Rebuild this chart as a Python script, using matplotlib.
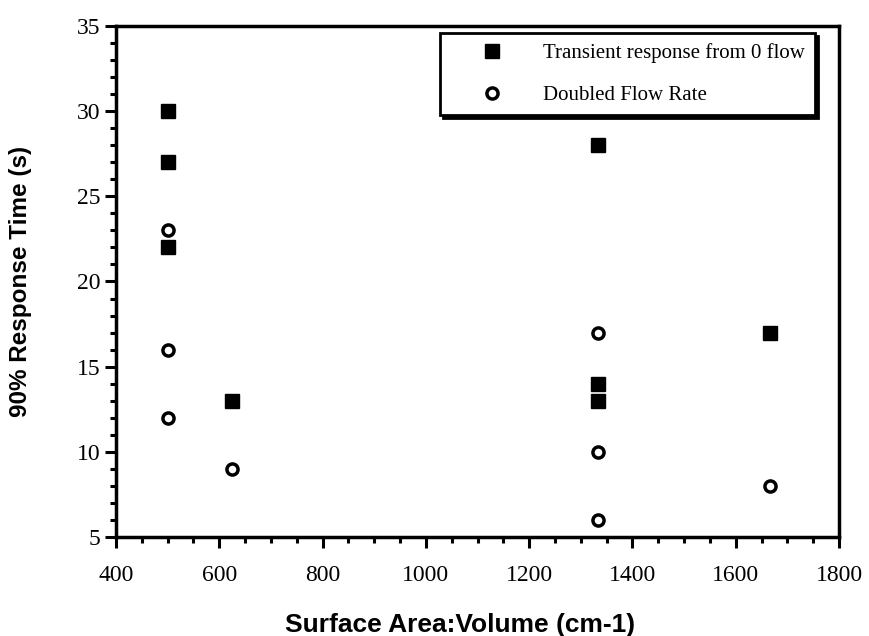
import matplotlib
matplotlib.use("Agg")
import matplotlib.pyplot as plt
from matplotlib.ticker import MultipleLocator

# surface area to volume ratio (cm-1)
sav_transient = [500, 500, 500, 625, 1333, 1333, 1333, 1667]
time_transient = [30, 27, 22, 13, 28, 14, 13, 17]

sav_doubled = [500, 500, 500, 625, 1333, 1333, 1333, 1667]
time_doubled = [23, 16, 12, 9, 17, 10, 6, 8]

fig = plt.figure(figsize=(8.69, 6.36), dpi=100)
ax = fig.add_axes([0.1335, 0.1557, 0.832, 0.8034])

ax.plot(sav_transient, time_transient, linestyle="none", marker="s",
        markersize=10, color="black", label="Transient response from 0 flow")
ax.plot(sav_doubled, time_doubled, linestyle="none", marker="o",
        markersize=8, markerfacecolor="white", markeredgecolor="black",
        markeredgewidth=2.5, label="Doubled Flow Rate")

ax.set_xlim(400, 1800)
ax.set_ylim(5, 35)
ax.xaxis.set_major_locator(MultipleLocator(200))
ax.xaxis.set_minor_locator(MultipleLocator(50))
ax.yaxis.set_major_locator(MultipleLocator(5))
ax.yaxis.set_minor_locator(MultipleLocator(1))

for s in ax.spines.values():
    s.set_linewidth(2.5)
ax.tick_params(which="major", direction="out", length=8, width=2.2,
               labelsize=17)
ax.tick_params(which="minor", direction="out", length=4, width=2.2)
ax.tick_params(axis="x", which="major", pad=12)
ax.tick_params(axis="y", which="major", pad=3)
for lab in ax.get_xticklabels() + ax.get_yticklabels():
    lab.set_fontfamily("Liberation Serif")

ax.set_xlabel("Surface Area:Volume (cm-1)", fontsize=19, fontweight="bold",
              fontfamily="Liberation Sans")
ax.set_ylabel("90% Response Time (s)", fontsize=17.5, fontweight="bold",
              fontfamily="Liberation Sans")
ax.xaxis.set_label_coords(0.476, -0.149)
ax.yaxis.set_label_coords(-0.116, 0.5)

leg = ax.legend(loc="upper left", bbox_to_anchor=(0.448, 0.986),
                prop={"family": "Liberation Serif", "size": 15},
                frameon=True, fancybox=False,
                shadow={"color": "black", "alpha": 1},
                borderpad=0.5, labelspacing=1.05, handletextpad=0.45,
                handlelength=4.0, borderaxespad=0)
leg.get_frame().set_edgecolor("black")
leg.get_frame().set_linewidth(2)
leg.get_frame().set_alpha(1)

fig.savefig("out.png", dpi=100)
